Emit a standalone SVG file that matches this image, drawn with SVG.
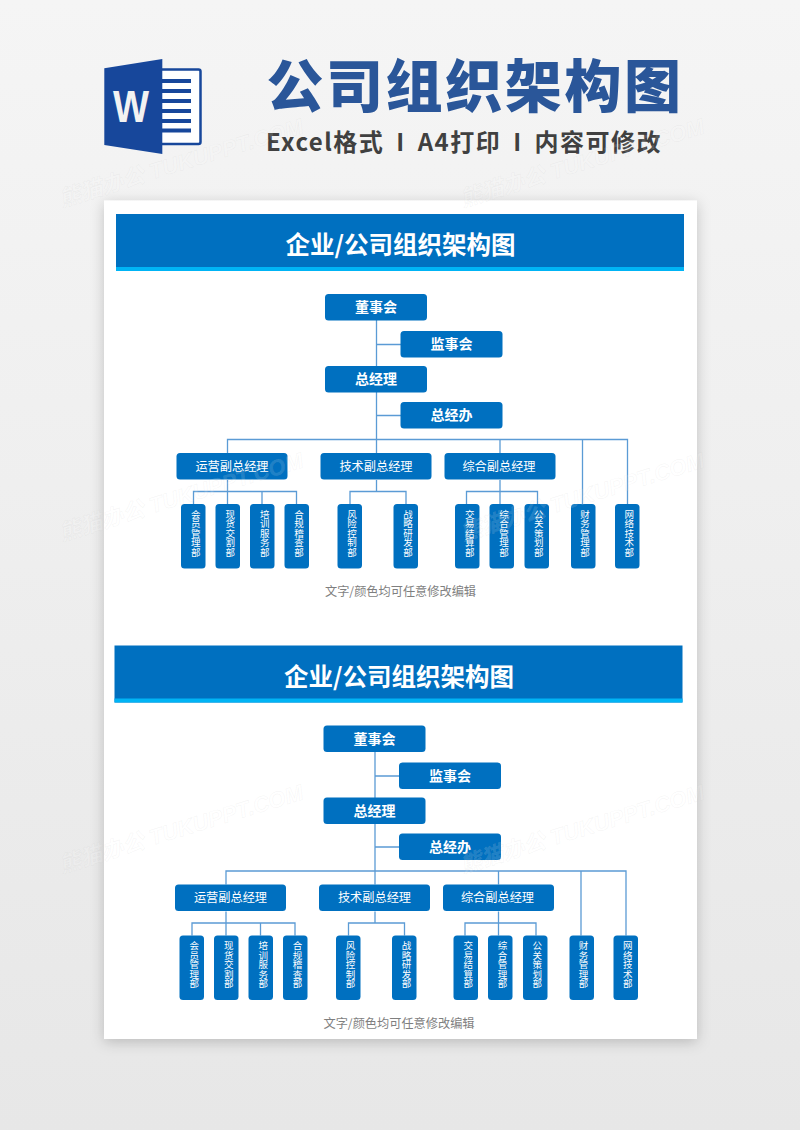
<svg xmlns="http://www.w3.org/2000/svg" width="800" height="1130" viewBox="0 0 800 1130">
<style>
text{font-family:"Noto Sans CJK SC","Noto Sans",sans-serif}
.box{fill:#0070c0}
.t1{fill:#fff;font-size:14px;font-weight:700;text-anchor:middle}
.t2{fill:#fff;font-size:12.2px;font-weight:400;text-anchor:middle}
.t3{fill:#fff;font-size:9.5px;font-weight:400;text-anchor:middle}
.band{fill:#0070c0}
.stripe{fill:#00b4f5}
.bt{fill:#fff;font-size:24.5px;font-weight:700;text-anchor:middle}
.note{fill:#7f7f7f;font-size:12.2px;text-anchor:middle}
.cn path{fill:none;stroke:#5b9bd5;stroke-width:1.3}
.wm{font-family:"Liberation Sans","Noto Sans CJK SC",sans-serif;font-size:22px;font-weight:700;font-style:italic;fill:#fff;fill-opacity:.12;stroke:#bdbdbd;stroke-opacity:.16;stroke-width:.5}
</style>
<defs>
<linearGradient id="bg" x1="0" y1="0" x2="0" y2="1"><stop offset="0" stop-color="#f5f5f5"/><stop offset="1" stop-color="#e7e7e7"/></linearGradient>
<filter id="sh" x="-10%" y="-10%" width="120%" height="120%"><feDropShadow dx="0" dy="3" stdDeviation="7" flood-color="#000" flood-opacity=".2"/></filter>
</defs>
<rect width="800" height="1130" fill="url(#bg)"/>
<g id="word-icon">
<rect x="150" y="69.5" width="50.5" height="74.5" rx="2" fill="#fff" stroke="#17479b" stroke-width="2.5"/>
<g fill="#17479b"><rect x="160" y="79" width="31" height="4"/><rect x="160" y="89" width="31" height="4"/><rect x="160" y="99" width="31" height="4"/><rect x="160" y="109" width="31" height="4"/><rect x="160" y="119" width="31" height="4"/><rect x="160" y="128.5" width="31" height="4"/></g>
<polygon points="104.3,68.3 162.3,59 162.3,154 104.3,145" fill="#17479b"/>
<text x="131" y="122" text-anchor="middle" style="font-family:'Liberation Sans',sans-serif;font-size:44px;font-weight:700" fill="#f2f2f2" textLength="36" lengthAdjust="spacingAndGlyphs">W</text>
</g>
<text x="475" y="107" text-anchor="middle" style="font-size:57px;font-weight:900;letter-spacing:2.6px" fill="#2a5699">公司组织架构图</text>
<text x="464" y="151" text-anchor="middle" style="font-size:24px;font-weight:700;letter-spacing:1.5px;word-spacing:5px" fill="#404040">Excel格式 I A4打印 I 内容可修改</text>
<rect id="page" x="104" y="200.5" width="593" height="838.5" fill="#fff" filter="url(#sh)"/>

<g id="chart-1">
<rect class="band" x="116" y="214" width="568" height="57"/><rect class="stripe" x="116" y="267" width="568" height="4"/>
<text class="bt" x="400.5" y="254">企业/公司组织架构图</text>
<g class="cn">
<path d="M376.5 320V439.5M376.5 344.5H401M376.5 415.5H401M227.5 453V439.5H627.5V504M500 439.5V453M582.5 439.5V504M376.5 439.5V453"/>
<path d="M227.5 480V491.5M193.5 504V491.5H296.5V504M227.5 491.5V504M262 491.5V504"/>
<path d="M376.5 480V491.5M350 504V491.5H406V504"/>
<path d="M500 480V504M466.5 504V491.5H537.5V504"/>
</g>
<g id="c1-n1"><rect class="box" x="325" y="294" width="102" height="26.5" rx="3.5"/><text class="t1" x="376" y="312">董事会</text></g>
<g id="c1-n2"><rect class="box" x="400.5" y="331" width="102" height="26.5" rx="3.5"/><text class="t1" x="451.5" y="349">监事会</text></g>
<g id="c1-n3"><rect class="box" x="325" y="366" width="102" height="26.5" rx="3.5"/><text class="t1" x="376" y="384">总经理</text></g>
<g id="c1-n4"><rect class="box" x="400.5" y="402" width="102" height="26.5" rx="3.5"/><text class="t1" x="451.5" y="420">总经办</text></g>
<g id="c1-v1"><rect class="box" x="176.5" y="453" width="111" height="26.5" rx="3.5"/><text class="t2" x="232" y="470.5">运营副总经理</text></g>
<g id="c1-v2"><rect class="box" x="320.5" y="453" width="111" height="26.5" rx="3.5"/><text class="t2" x="376" y="470.5">技术副总经理</text></g>
<g id="c1-v3"><rect class="box" x="444.5" y="453" width="111" height="26.5" rx="3.5"/><text class="t2" x="499" y="470.5">综合副总经理</text></g>
<g id="c1-l1"><rect class="box" x="181" y="504" width="24.5" height="64.5" rx="3.5"/><text class="t3" x="195.7 195.7 195.7 195.7 195.7" y="517.5 527 536.5 546 555.5">会员管理部</text></g>
<g id="c1-l2"><rect class="box" x="215.5" y="504" width="24.5" height="64.5" rx="3.5"/><text class="t3" x="230.3 230.3 230.3 230.3 230.3" y="517.5 527 536.5 546 555.5">现货交割部</text></g>
<g id="c1-l3"><rect class="box" x="250" y="504" width="24.5" height="64.5" rx="3.5"/><text class="t3" x="264.7 264.7 264.7 264.7 264.7" y="517.5 527 536.5 546 555.5">培训服务部</text></g>
<g id="c1-l4"><rect class="box" x="284.5" y="504" width="24.5" height="64.5" rx="3.5"/><text class="t3" x="299 299 299 299 299" y="517.5 527 536.5 546 555.5">合规稽查部</text></g>
<g id="c1-l5"><rect class="box" x="337.5" y="504" width="24.5" height="64.5" rx="3.5"/><text class="t3" x="352 352 352 352 352" y="517.5 527 536.5 546 555.5">风险控制部</text></g>
<g id="c1-l6"><rect class="box" x="393.5" y="504" width="24.5" height="64.5" rx="3.5"/><text class="t3" x="408 408 408 408 408" y="517.5 527 536.5 546 555.5">战略研发部</text></g>
<g id="c1-l7"><rect class="box" x="455" y="504" width="24.5" height="64.5" rx="3.5"/><text class="t3" x="469.7 469.7 469.7 469.7 469.7" y="517.5 527 536.5 546 555.5">交易结算部</text></g>
<g id="c1-l8"><rect class="box" x="489.5" y="504" width="24.5" height="64.5" rx="3.5"/><text class="t3" x="504 504 504 504 504" y="517.5 527 536.5 546 555.5">综合管理部</text></g>
<g id="c1-l9"><rect class="box" x="524.5" y="504" width="24.5" height="64.5" rx="3.5"/><text class="t3" x="538.7 538.7 538.7 538.7 538.7" y="517.5 527 536.5 546 555.5">公关策划部</text></g>
<g id="c1-l10"><rect class="box" x="571" y="504" width="24.5" height="64.5" rx="3.5"/><text class="t3" x="585 585 585 585 585" y="517.5 527 536.5 546 555.5">财务管理部</text></g>
<g id="c1-l11"><rect class="box" x="615" y="504" width="24.5" height="64.5" rx="3.5"/><text class="t3" x="629.3 629.3 629.3 629.3 629.3" y="517.5 527 536.5 546 555.5">网络技术部</text></g>
<text class="note" x="400.5" y="596">文字/颜色均可任意修改编辑</text>
</g>

<g id="chart-2" transform="translate(-1.5 431.5)">
<rect class="band" x="116" y="214" width="568" height="57"/><rect class="stripe" x="116" y="267" width="568" height="4"/>
<text class="bt" x="400.5" y="254">企业/公司组织架构图</text>
<g class="cn">
<path d="M376.5 320V439.5M376.5 344.5H401M376.5 415.5H401M227.5 453V439.5H627.5V504M500 439.5V453M582.5 439.5V504M376.5 439.5V453"/>
<path d="M227.5 480V491.5M193.5 504V491.5H296.5V504M227.5 491.5V504M262 491.5V504"/>
<path d="M376.5 480V491.5M350 504V491.5H406V504"/>
<path d="M500 480V504M466.5 504V491.5H537.5V504"/>
</g>
<g id="c2-n1"><rect class="box" x="325" y="294" width="102" height="26.5" rx="3.5"/><text class="t1" x="376" y="312">董事会</text></g>
<g id="c2-n2"><rect class="box" x="400.5" y="331" width="102" height="26.5" rx="3.5"/><text class="t1" x="451.5" y="349">监事会</text></g>
<g id="c2-n3"><rect class="box" x="325" y="366" width="102" height="26.5" rx="3.5"/><text class="t1" x="376" y="384">总经理</text></g>
<g id="c2-n4"><rect class="box" x="400.5" y="402" width="102" height="26.5" rx="3.5"/><text class="t1" x="451.5" y="420">总经办</text></g>
<g id="c2-v1"><rect class="box" x="176.5" y="453" width="111" height="26.5" rx="3.5"/><text class="t2" x="232" y="470.5">运营副总经理</text></g>
<g id="c2-v2"><rect class="box" x="320.5" y="453" width="111" height="26.5" rx="3.5"/><text class="t2" x="376" y="470.5">技术副总经理</text></g>
<g id="c2-v3"><rect class="box" x="444.5" y="453" width="111" height="26.5" rx="3.5"/><text class="t2" x="499" y="470.5">综合副总经理</text></g>
<g id="c2-l1"><rect class="box" x="181" y="504" width="24.5" height="64.5" rx="3.5"/><text class="t3" x="195.7 195.7 195.7 195.7 195.7" y="517.5 527 536.5 546 555.5">会员管理部</text></g>
<g id="c2-l2"><rect class="box" x="215.5" y="504" width="24.5" height="64.5" rx="3.5"/><text class="t3" x="230.3 230.3 230.3 230.3 230.3" y="517.5 527 536.5 546 555.5">现货交割部</text></g>
<g id="c2-l3"><rect class="box" x="250" y="504" width="24.5" height="64.5" rx="3.5"/><text class="t3" x="264.7 264.7 264.7 264.7 264.7" y="517.5 527 536.5 546 555.5">培训服务部</text></g>
<g id="c2-l4"><rect class="box" x="284.5" y="504" width="24.5" height="64.5" rx="3.5"/><text class="t3" x="299 299 299 299 299" y="517.5 527 536.5 546 555.5">合规稽查部</text></g>
<g id="c2-l5"><rect class="box" x="337.5" y="504" width="24.5" height="64.5" rx="3.5"/><text class="t3" x="352 352 352 352 352" y="517.5 527 536.5 546 555.5">风险控制部</text></g>
<g id="c2-l6"><rect class="box" x="393.5" y="504" width="24.5" height="64.5" rx="3.5"/><text class="t3" x="408 408 408 408 408" y="517.5 527 536.5 546 555.5">战略研发部</text></g>
<g id="c2-l7"><rect class="box" x="455" y="504" width="24.5" height="64.5" rx="3.5"/><text class="t3" x="469.7 469.7 469.7 469.7 469.7" y="517.5 527 536.5 546 555.5">交易结算部</text></g>
<g id="c2-l8"><rect class="box" x="489.5" y="504" width="24.5" height="64.5" rx="3.5"/><text class="t3" x="504 504 504 504 504" y="517.5 527 536.5 546 555.5">综合管理部</text></g>
<g id="c2-l9"><rect class="box" x="524.5" y="504" width="24.5" height="64.5" rx="3.5"/><text class="t3" x="538.7 538.7 538.7 538.7 538.7" y="517.5 527 536.5 546 555.5">公关策划部</text></g>
<g id="c2-l10"><rect class="box" x="571" y="504" width="24.5" height="64.5" rx="3.5"/><text class="t3" x="585 585 585 585 585" y="517.5 527 536.5 546 555.5">财务管理部</text></g>
<g id="c2-l11"><rect class="box" x="615" y="504" width="24.5" height="64.5" rx="3.5"/><text class="t3" x="629.3 629.3 629.3 629.3 629.3" y="517.5 527 536.5 546 555.5">网络技术部</text></g>
<text class="note" x="400.5" y="596">文字/颜色均可任意修改编辑</text>
</g>

<g id="watermarks">
<text class="wm" transform="translate(62 207) rotate(-17)">熊猫办公 TUKUPPT.COM</text>
<text class="wm" transform="translate(463 207) rotate(-17)">熊猫办公 TUKUPPT.COM</text>
<text class="wm" transform="translate(62 541) rotate(-17)">熊猫办公 TUKUPPT.COM</text>
<text class="wm" transform="translate(463 541) rotate(-17)">熊猫办公 TUKUPPT.COM</text>
<text class="wm" transform="translate(62 873) rotate(-17)">熊猫办公 TUKUPPT.COM</text>
<text class="wm" transform="translate(463 873) rotate(-17)">熊猫办公 TUKUPPT.COM</text>
</g>
</svg>
